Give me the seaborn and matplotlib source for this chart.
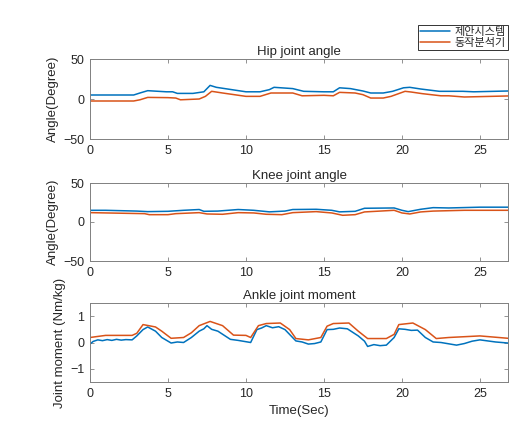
import numpy as np
import pandas as pd
import matplotlib
matplotlib.use("Agg")
import matplotlib.pyplot as plt
import seaborn as sns

series_names = ["제안시스템", "동작분석기"]

hip_t_blue = [0, 2.8, 3.2, 3.7, 4.9, 5.3, 5.6, 6.6, 7.3, 7.7, 8.1, 10, 10.9, 11.5, 11.8, 13, 13.7,
              15, 15.6, 16, 16.7, 17.5, 18, 18.8, 19.4, 20.1, 20.5, 21.2, 22.4, 23.9, 24.6, 26.8]
hip_blue = [5, 5, 7.5, 10.4, 9, 9, 7, 7, 9, 17, 14.6, 9, 9, 11.7, 14.6, 13, 9.6,
            9, 9, 14, 13, 10, 7.5, 7.5, 9.6, 14, 14.6, 12.5, 9.6, 9.6, 9, 10]
hip_t_red = [0, 2.8, 3.2, 3.7, 5, 5.5, 5.8, 7.0, 7.4, 7.8, 8.5, 10, 10.9, 11.6, 13, 13.6,
             15, 15.6, 16, 17, 17.5, 18, 18.8, 19.3, 19.6, 20.2, 20.6, 21.3, 22.5, 23, 24, 26.8]
hip_red = [-2.5, -2.5, -1, 2, 1.7, 1.2, -1, 0, 3.3, 9.6, 7.5, 3.3, 3.3, 7.5, 7.5, 4,
           4.6, 4, 8.3, 7.5, 5.4, 1.2, 1.2, 3.3, 5.4, 9.6, 8.7, 6.7, 4, 4, 2.5, 3.8]

knee_t_blue = [0, 1, 3, 3.7, 5, 6, 7, 7.3, 8.2, 9.5, 10.5, 11.5, 12.5, 13, 14.5, 15.5, 16,
               17, 17.6, 19.5, 20, 20.4, 21.2, 22, 23, 25, 26.8]
knee_blue = [15, 15, 14, 13.3, 13.7, 15, 16, 13.7, 14, 16, 15, 13, 14, 16, 16.3, 15, 13,
             13.7, 17.6, 18, 15, 13.3, 16.3, 18.4, 18, 19, 19]
knee_t_red = [0, 3.5, 3.8, 5, 5.5, 7, 7.5, 8.5, 9.5, 10.5, 11.3, 12.3, 13, 14.5, 15.5, 16.2,
              17, 17.6, 19.5, 20, 20.5, 21.2, 22, 24, 26.8]
knee_red = [12, 10.7, 9.4, 9.4, 10.7, 12, 10.3, 9.9, 12, 11.6, 9.9, 9.4, 12, 13.3, 11.6, 8.6,
            9.4, 12.9, 15, 11.6, 10.3, 12.9, 14, 15, 15]

ank_t_red = [0, 1, 2.7, 3, 3.4, 4.2, 4.6, 5.2, 6.0, 6.5, 7, 7.7, 8.5, 9.2, 10, 10.3, 10.8,
             11.3, 12.2, 12.8, 13.2, 14, 14.8, 15.2, 15.6, 16.6, 17.2, 17.8, 19.0, 19.5, 19.8,
             20.7, 21.5, 22.2, 23, 25, 26.8]
ank_red = [0.19, 0.27, 0.27, 0.35, 0.68, 0.59, 0.43, 0.16, 0.19, 0.37, 0.64, 0.8, 0.64, 0.28,
           0.27, 0.19, 0.64, 0.72, 0.74, 0.49, 0.15, 0.1, 0.19, 0.62, 0.72, 0.74, 0.43, 0.15,
           0.15, 0.31, 0.68, 0.74, 0.49, 0.15, 0.19, 0.25, 0.16]
ank_t_blue = [0, 0.2, 0.5, 0.8, 1.1, 1.4, 1.7, 2.0, 2.3, 2.7, 3.0, 3.4, 3.7, 4.2, 4.6, 5.2,
              5.6, 6.0, 6.5, 7.0, 7.3, 7.5, 7.8, 8.2, 9.0, 9.5, 10.0, 10.3, 10.7, 11.0, 11.3,
              11.7, 12.1, 12.5, 13.2, 13.6, 14.0, 14.4, 14.8, 15.2, 15.6, 16.0, 16.5, 17.2,
              17.6, 17.8, 18.2, 18.6, 19.0, 19.5, 19.8, 20.2, 20.6, 21.0, 21.5, 22.0, 22.5,
              23.0, 23.5, 24.0, 24.5, 25.0, 25.5, 26.0, 26.4, 26.8]
ank_blue = [-0.06, 0.04, 0.1, 0.07, 0.11, 0.08, 0.12, 0.09, 0.11, 0.1, 0.25, 0.49, 0.59, 0.43,
            0.19, -0.02, 0.02, 0.0, 0.19, 0.43, 0.52, 0.64, 0.5, 0.43, 0.12, 0.08, 0.03, 0.0,
            0.49, 0.55, 0.64, 0.56, 0.6, 0.49, 0.06, 0.02, -0.06, -0.04, 0.02, 0.49, 0.5, 0.55,
            0.52, 0.25, 0.05, -0.15, -0.08, -0.12, -0.1, 0.19, 0.52, 0.5, 0.46, 0.47, 0.19,
            0.02, 0.0, -0.05, -0.1, -0.04, 0.05, 0.1, 0.06, 0.02, 0.0, -0.02]

titles = ["Hip joint angle", "Knee joint angle", "Ankle joint moment"]
ylabels = ["Angle(Degree)", "Angle(Degree)", "Joint moment (Nm/kg)"]
xlabel = "Time(Sec)"
xticks = [0, 5, 10, 15, 20, 25]
angle_yticks = [-50, 0, 50]
moment_yticks = [-1, 0, 1]

sns.set_theme(style="white")
plt.rcParams['font.family'] = ['DejaVu Sans', 'Noto Sans CJK KR']

blue = "#0072BD"
red = "#D95319"
txt = "#262626"
edge = "#808080"

fig = plt.figure(figsize=(5.18, 4.30), dpi=100)
rects = [
    [90/518, 1-139/430, 418/518, 80/430],
    [90/518, 1-261/430, 418/518, 78/430],
    [90/518, 1-382/430, 418/518, 79/430],
]
data = [
    (hip_t_blue, hip_blue, hip_t_red, hip_red, (-50, 50), angle_yticks),
    (knee_t_blue, knee_blue, knee_t_red, knee_red, (-50, 50), angle_yticks),
    (ank_t_blue, ank_blue, ank_t_red, ank_red, (-1.5, 1.5), moment_yticks),
]
font = ['Liberation Sans', 'DejaVu Sans']
axes = []
for i, (r, d) in enumerate(zip(rects, data)):
    ax = fig.add_axes(r)
    tb, yb, tr, yr, ylim, yt = d
    sns.lineplot(x=tb, y=yb, ax=ax, color=blue, lw=1.1, label=series_names[0] if i == 0 else None)
    sns.lineplot(x=tr, y=yr, ax=ax, color=red, lw=1.1, label=series_names[1] if i == 0 else None)
    ax.set_xlim(0, 26.8)
    ax.set_ylim(*ylim)
    ax.set_xticks(xticks)
    ax.set_yticks(yt)
    ax.tick_params(direction="in", length=3, width=0.6, colors=edge, labelcolor=txt,
                   labelsize=9, top=True, right=True, bottom=True, left=True, pad=4)
    for lab in ax.get_xticklabels() + ax.get_yticklabels():
        lab.set_fontfamily(font)
    for s in ax.spines.values():
        s.set_color(edge)
        s.set_linewidth(0.7)
    ax.set_title(titles[i], fontsize=9.5, color=txt, family=font, pad=3)
    ax.set_ylabel(ylabels[i], fontsize=9.5, color=txt, family=font, labelpad=3)
    axes.append(ax)

axes[2].set_xlabel(xlabel, fontsize=9.5, color=txt, family=font, labelpad=4)

leg = axes[0].legend(loc="upper right", bbox_to_anchor=(508/518, 1-25/430),
                     bbox_transform=fig.transFigure, frameon=True, fancybox=False,
                     prop={'family': ['Noto Sans CJK KR'], 'size': 8.0}, handlelength=2.7,
                     borderpad=0.2, labelspacing=0.05, handletextpad=0.4, borderaxespad=0)
leg.get_frame().set_edgecolor("#000000")
leg.get_frame().set_linewidth(0.7)
for t in leg.get_texts():
    t.set_color(txt)

fig.savefig("out.png", dpi=100, facecolor="white")
